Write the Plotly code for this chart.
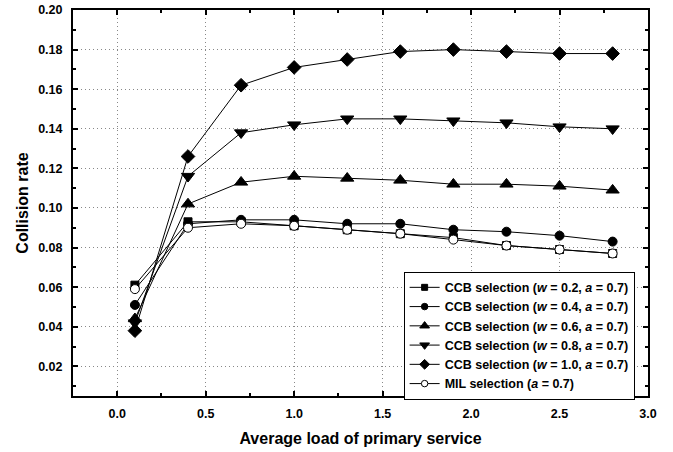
import plotly.graph_objects as go

x_load = [0.1, 0.4, 0.7, 1.0, 1.3, 1.6, 1.9, 2.2, 2.5, 2.8]
ccb_w02 = [0.061, 0.093, 0.093, 0.091, 0.089, 0.087, 0.085, 0.081, 0.079, 0.077]
ccb_w04 = [0.051, 0.092, 0.094, 0.094, 0.092, 0.092, 0.089, 0.088, 0.086, 0.083]
ccb_w06 = [0.044, 0.102, 0.113, 0.116, 0.115, 0.114, 0.112, 0.112, 0.111, 0.109]
ccb_w08 = [0.042, 0.116, 0.138, 0.142, 0.145, 0.145, 0.144, 0.143, 0.141, 0.140]
ccb_w10 = [0.038, 0.126, 0.162, 0.171, 0.175, 0.179, 0.180, 0.179, 0.178, 0.178]
mil = [0.059, 0.090, 0.092, 0.091, 0.089, 0.087, 0.084, 0.081, 0.079, 0.077]

names = [
    "CCB selection (<i>w</i> = 0.2, <i>a</i> = 0.7)",
    "CCB selection (<i>w</i> = 0.4, <i>a</i> = 0.7)",
    "CCB selection (<i>w</i> = 0.6, <i>a</i> = 0.7)",
    "CCB selection (<i>w</i> = 0.8, <i>a</i> = 0.7)",
    "CCB selection (<i>w</i> = 1.0, <i>a</i> = 0.7)",
    "MIL selection (<i>a</i> = 0.7)",
]
series = [ccb_w02, ccb_w04, ccb_w06, ccb_w08, ccb_w10, mil]
symbols = ["square", "circle", "triangle-up", "triangle-down", "diamond", "circle"]
sizes = [8, 9, 11.5, 11.5, 10.5, 9]
legend_sizes = [6, 6.5, 8.5, 8.5, 7.5, 6.5]
fills = ["black", "black", "black", "black", "black", "white"]

FONT = "Liberation Sans"

fig = go.Figure()
for nm, ys, sym, sz, fc in zip(names, series, symbols, sizes, fills):
    fig.add_trace(go.Scatter(
        x=x_load, y=ys, name=nm, mode="lines+markers", showlegend=False,
        line=dict(color="black", width=1),
        marker=dict(symbol=sym, size=sz, color=fc, line=dict(color="black", width=1)),
    ))
for nm, sym, sz, fc in zip(names, symbols, legend_sizes, fills):
    fig.add_trace(go.Scatter(
        x=[None], y=[None], name=nm, mode="lines+markers", showlegend=True,
        line=dict(color="black", width=1),
        marker=dict(symbol=sym, size=sz, color=fc, line=dict(color="black", width=1)),
    ))

axis_common = dict(
    showline=True, linecolor="black", linewidth=2, mirror="ticks",
    ticks="inside", ticklen=5, tickwidth=1.5, tickcolor="black",
    showgrid=True, gridcolor="#888888", griddash="1px,3px", gridwidth=1,
    zeroline=False, automargin=False, ticklabeloverflow="allow",
    tickfont=dict(family=FONT, size=12.5, color="black", weight="bold"),
)

fig.update_xaxes(
    range=[-0.25, 3.0], dtick=0.5, tick0=0, tickformat=".1f",
    ticklabelstandoff=5,
    minor=dict(ticks="inside", dtick=0.25, ticklen=3, tickcolor="black", showgrid=False),
    title=dict(text="Average load of primary service", standoff=13,
               font=dict(family=FONT, size=16, color="black", weight="bold")),
    **axis_common,
)
fig.update_yaxes(
    range=[0.005, 0.20], dtick=0.02, tick0=0, tickformat=".2f",
    ticklabelstandoff=6,
    minor=dict(ticks="inside", dtick=0.01, ticklen=3, tickcolor="black", showgrid=False),
    title=dict(text="Collision rate", standoff=6,
               font=dict(family=FONT, size=16, color="black", weight="bold")),
    **axis_common,
)

fig.update_layout(
    width=673, height=452,
    margin=dict(l=73, r=25, t=10, b=56),
    plot_bgcolor="white", paper_bgcolor="white",
    legend=dict(
        x=0.575, y=0.322, xanchor="left", yanchor="top",
        bgcolor="white", bordercolor="black", borderwidth=1,
        font=dict(family=FONT, size=12.5, color="black", weight="bold"),
        tracegroupgap=0, itemwidth=30,
    ),
)

fig.write_html("out.html", config={"displayModeBar": False},
               post_script="document.body.style.margin='0';")
